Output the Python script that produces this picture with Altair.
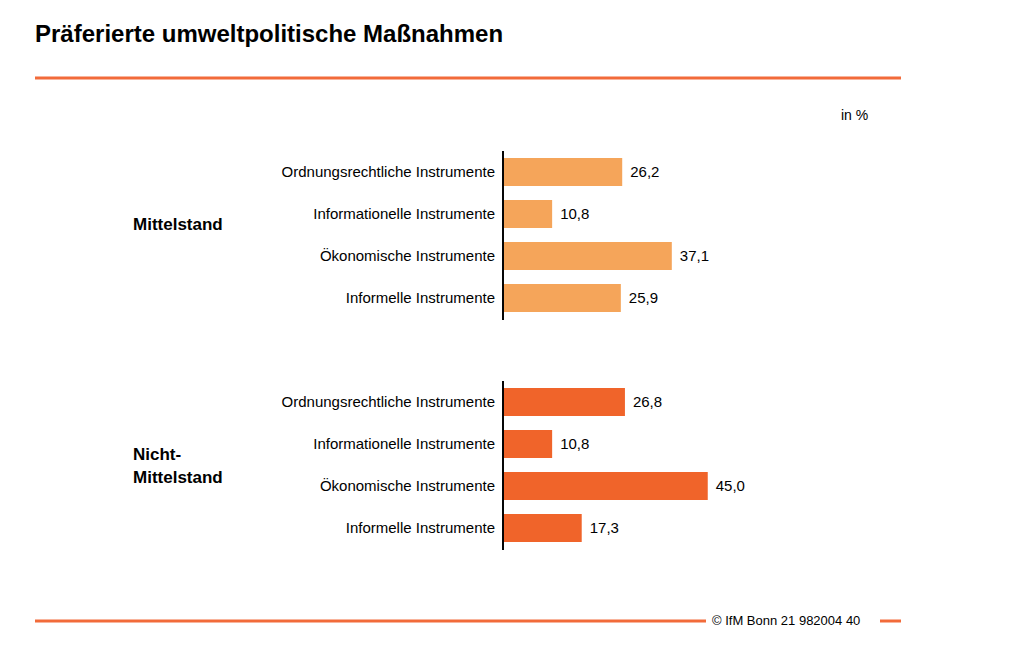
import altair as alt
import pandas as pd

instruments = ['Ordnungsrechtliche Instrumente', 'Informationelle Instrumente',
               'Ökonomische Instrumente', 'Informelle Instrumente']
mittelstand = [26.2, 10.8, 37.1, 25.9]
nicht_mittelstand = [26.8, 10.8, 45.0, 17.3]

FONT = 'Liberation Sans'
X0 = 495
x_scale = alt.Scale(domain=[0, 50], range=[X0, X0 + 227.5])


def group(values, color, top, name, name_lines):
    df = pd.DataFrame({'inst': instruments, 'val': values,
                       'lab': [f'{v:.1f}'.replace('.', ',') for v in values]})
    y = alt.Y('inst:N', sort=instruments, axis=None,
              scale=alt.Scale(range=[top, top + 168], paddingInner=0.33, paddingOuter=0.165))
    base = alt.Chart(df)
    bars = base.mark_bar(color=color).encode(
        x=alt.X('val:Q', scale=x_scale, axis=None), x2=alt.datum(0), y=y)
    vals = base.mark_text(align='left', dx=8, font=FONT, fontSize=15, color='black').encode(
        x=alt.X('val:Q', scale=x_scale, axis=None), y=y, text='lab:N')
    labs = base.mark_text(align='right', font=FONT, fontSize=15, color='black').encode(
        x=alt.value(X0 - 8), y=y, text='inst:N')
    axis_line = base.mark_rule(color='black', strokeWidth=1.2).encode(
        x=alt.value(X0), y=alt.value(top), y2=alt.value(top + 169))
    mid = top + 84
    nm = alt.Chart(pd.DataFrame({'t': [0]})).mark_text(
        text=name_lines, align='left', baseline='middle', font=FONT, fontSize=17,
        fontWeight='bold', color='black', lineHeight=23).encode(
        x=alt.value(125), y=alt.value(mid - 10 if len(name_lines) == 1 else mid - 10))
    return alt.layer(bars, vals, labs, axis_line, nm)


g1 = group(mittelstand, '#F5A55A', 143, 'Mittelstand', ['Mittelstand'])
g2 = group(nicht_mittelstand, '#F0642A', 373, 'Nicht-Mittelstand', ['Nicht-', 'Mittelstand'])

d = alt.Chart(pd.DataFrame({'t': [0]}))
title = d.mark_text(text='Präferierte umweltpolitische Maßnahmen', align='left', baseline='middle',
                    font=FONT, fontSize=24, fontWeight='bold', color='black').encode(
    x=alt.value(27), y=alt.value(27))
unit = d.mark_text(text='in %', align='left', baseline='middle', font=FONT, fontSize=14,
                   color='black').encode(x=alt.value(833), y=alt.value(108))
top_line = d.mark_rule(color='#F26B3A', strokeWidth=3).encode(
    x=alt.value(27), x2=alt.value(893), y=alt.value(70))
bot_line1 = d.mark_rule(color='#F26B3A', strokeWidth=3).encode(
    x=alt.value(27), x2=alt.value(698), y=alt.value(613))
bot_line2 = d.mark_rule(color='#F26B3A', strokeWidth=3).encode(
    x=alt.value(872), x2=alt.value(893), y=alt.value(613))
source = d.mark_text(text='© IfM Bonn 21 982004 40', align='left', baseline='middle', font=FONT,
                     fontSize=13, color='black').encode(x=alt.value(704), y=alt.value(613))

chart = alt.layer(g1, g2, title, unit, top_line, bot_line1, bot_line2, source).resolve_scale(
    y='independent').properties(
    width=1008, height=632, autosize=alt.AutoSizeParams(type='none'), padding=0
).configure_view(stroke=None)

chart.save("out.html", embed_options={"renderer": "svg", "actions": False})
